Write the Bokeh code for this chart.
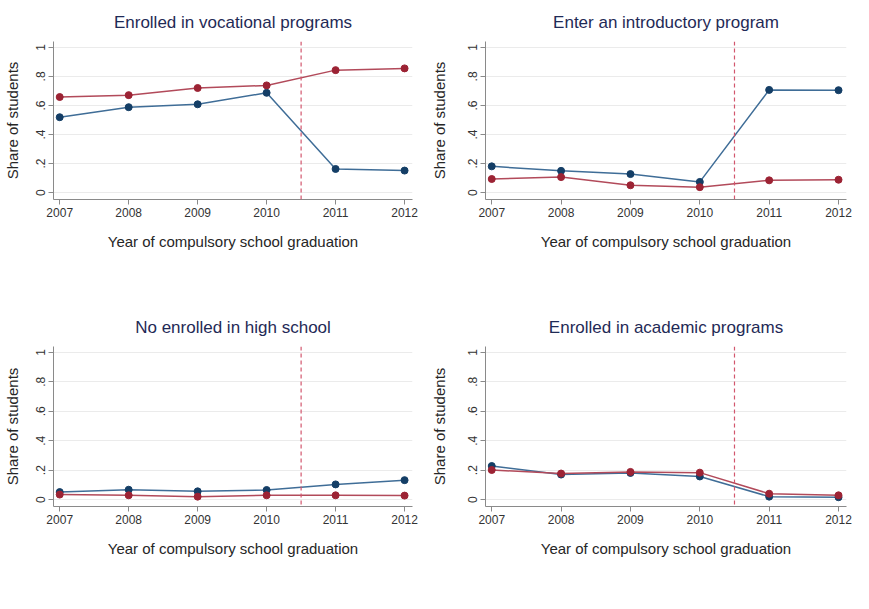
from bokeh.plotting import figure
from bokeh.layouts import column, row
from bokeh.models import Span, Legend, LegendItem, FixedTicker
from bokeh.embed import file_html
from bokeh.resources import INLINE

years = [2007, 2008, 2009, 2010, 2011, 2012]
y_ticks = [0, 0.2, 0.4, 0.6, 0.8, 1.0]
y_tick_labels = ["0", ".2", ".4", ".6", ".8", "1"]
series_names = ["Ineligible", "Eligible"]

titles = [
    "Enrolled in vocational programs",
    "Enter an introductory program",
    "No enrolled in high school",
    "Enrolled in academic programs",
]

vocational_ineligible = [0.519, 0.588, 0.608, 0.687, 0.163, 0.152]
vocational_eligible = [0.658, 0.671, 0.720, 0.738, 0.843, 0.855]

introductory_ineligible = [0.181, 0.150, 0.128, 0.074, 0.707, 0.705]
introductory_eligible = [0.094, 0.107, 0.051, 0.038, 0.085, 0.089]

not_enrolled_ineligible = [0.051, 0.067, 0.056, 0.065, 0.103, 0.132]
not_enrolled_eligible = [0.034, 0.029, 0.020, 0.029, 0.029, 0.027]

academic_ineligible = [0.228, 0.170, 0.181, 0.157, 0.020, 0.016]
academic_eligible = [0.201, 0.177, 0.188, 0.183, 0.040, 0.029]

cutoff = 2010.5

FONT = "Liberation Sans"
INEL_LINE = "#3f6d97"
INEL_MARK = "#143e66"
ELIG_LINE = "#b24a5a"
ELIG_MARK = "#9c2334"
CUT_COLOR = "#d2566d"


def make_panel(title, inel, elig, width, height, mb_left, mb_right, mb_top, mb_bottom,
               ylab_standoff, legend_x):
    p = figure(width=width, height=height,
               x_range=(2006.91, 2012.115), y_range=(-0.047, 1.04),
               output_backend="svg", toolbar_location=None,
               min_border_left=mb_left, min_border_right=mb_right,
               min_border_top=mb_top, min_border_bottom=mb_bottom)
    p.title.text = title
    p.title.align = "center"
    p.title.text_font = FONT
    p.title.text_font_size = "17px"
    p.title.text_font_style = "normal"
    p.title.text_color = "#1f2a56"
    p.title.standoff = 20

    p.outline_line_color = None
    p.xgrid.visible = False
    p.ygrid.grid_line_color = "#ebebeb"

    p.xaxis.ticker = FixedTicker(ticks=years)
    p.yaxis.ticker = FixedTicker(ticks=y_ticks)
    p.yaxis.major_label_overrides = {t: l for t, l in zip(y_ticks, y_tick_labels)}
    p.yaxis.major_label_orientation = "vertical"

    for ax in (p.xaxis[0], p.yaxis[0]):
        ax.axis_line_color = "#8a8a8a"
        ax.major_tick_line_color = "#8a8a8a"
        ax.major_tick_in = 0
        ax.major_tick_out = 5
        ax.minor_tick_line_color = None
        ax.major_label_text_font = FONT
        ax.major_label_text_font_size = "12px"
        ax.major_label_text_color = "#333333"
        ax.major_label_standoff = 3
        ax.axis_label_text_font = FONT
        ax.axis_label_text_font_size = "15px"
        ax.axis_label_text_font_style = "normal"
        ax.axis_label_text_color = "#262626"

    p.xaxis.axis_label = "Year of compulsory school graduation"
    p.xaxis.axis_label_standoff = 13
    p.yaxis.axis_label = "Share of students"
    p.yaxis.axis_label_standoff = ylab_standoff

    p.add_layout(Span(location=cutoff, dimension="height", line_color=CUT_COLOR,
                      line_dash="4 3", line_width=1.2))

    l1 = p.line(years, inel, line_color=INEL_LINE, line_width=1.5)
    s1 = p.scatter(years, inel, size=7, fill_color=INEL_MARK, line_color=INEL_MARK)
    l2 = p.line(years, elig, line_color=ELIG_LINE, line_width=1.5)
    s2 = p.scatter(years, elig, size=7, fill_color=ELIG_MARK, line_color=ELIG_MARK)

    legend = Legend(items=[LegendItem(label=series_names[0], renderers=[l1, s1]),
                           LegendItem(label=series_names[1], renderers=[l2, s2])],
                    orientation="horizontal", location=(legend_x, -85),
                    border_line_color="#555555", border_line_width=1,
                    background_fill_color="white", background_fill_alpha=1.0,
                    padding=3, spacing=34, label_standoff=13,
                    glyph_width=44, glyph_height=15, label_height=19,
                    label_text_font=FONT, label_text_font_size="15px",
                    label_text_color="#222222", margin=0)
    p.add_layout(legend, "center")
    return p


p1 = make_panel(titles[0], vocational_ineligible, vocational_eligible, 422, 296, 51, 10, 37, 97, 13, 44)
p2 = make_panel(titles[1], introductory_ineligible, introductory_eligible, 431, 296, 63, 7, 37, 97, 18, 45)
p3 = make_panel(titles[2], not_enrolled_ineligible, not_enrolled_eligible, 422, 297, 50, 10, 50, 87, 13, 44)
p4 = make_panel(titles[3], academic_ineligible, academic_eligible, 431, 297, 63, 7, 50, 87, 18, 45)

layout = column(row(p1, p2), row(p3, p4))

open("out.html", "w").write(file_html(layout, INLINE))
